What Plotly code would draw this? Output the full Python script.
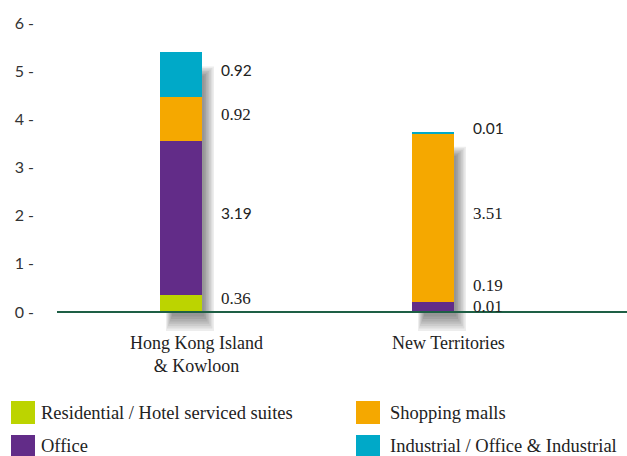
import plotly.graph_objects as go

# Floor area by district and use (million sq ft)
categories = ["Hong Kong Island<br>& Kowloon", "New Territories"]
series_names = ["Residential / Hotel serviced suites", "Office",
                "Shopping malls", "Industrial / Office & Industrial"]
residential = [0.36, 0.01]
office = [3.19, 0.19]
shopping = [0.92, 3.51]
industrial = [0.92, 0.01]
y_ticks = [0, 1, 2, 3, 4, 5, 6]
y_tick_labels = ["0 -", "1 -", "2 -", "3 -", "4 -", "5 -", "6 -"]

series_values = [residential, office, shopping, industrial]
colors = ["#bcd400", "#622c88", "#f5a800", "#00a9c8"]
# serif / sans mix used for the value labels (per series, per category)
label_fonts = [["Liberation Serif", "Liberation Serif"],
               ["Lato", "Liberation Serif"],
               ["Liberation Serif", "Liberation Serif"],
               ["Lato", "Lato"]]
label_sizes = {"Lato": 15.5, "Liberation Serif": 17}

W, H = 627, 456
M_L, M_R, M_T, M_B = 57, 0, 9, 125
PX_PER_X = 252.0
PX_PER_Y = 48.1667
ZERO_PX = 312
X0_PX = 181
BAR_W = 42 / PX_PER_X

plot_w = W - M_L - M_R
plot_h = H - M_T - M_B
x_range = [-(X0_PX - M_L) / PX_PER_X, (W - M_R - X0_PX) / PX_PER_X]
y_range = [-(H - M_B - ZERO_PX) / PX_PER_Y, (ZERO_PX - M_T) / PX_PER_Y]


def paper_x(px):
    return (px - M_L) / plot_w


def paper_y(px):
    return (H - M_B - px) / plot_h


xs = list(range(len(categories)))
fig = go.Figure()
for name, vals, col in zip(series_names, series_values, colors):
    fig.add_trace(go.Bar(x=xs, y=vals, name=name, marker_color=col,
                         marker_line_width=0, width=BAR_W, showlegend=False))

shapes = []
annotations = []

# soft drop shadow behind each stacked bar
for i in xs:
    total = sum(v[i] for v in series_values)
    for k in range(7):
        shapes.append(dict(
            type="rect", xref="x", yref="y", layer="below",
            x0=i - BAR_W / 2 + (6 + k) / PX_PER_X,
            x1=i + BAR_W / 2 + (12 - 1.6 * k) / PX_PER_X,
            y0=-(19 - 2.4 * k) / PX_PER_Y,
            y1=total - (14 + 1.5 * k) / PX_PER_Y,
            fillcolor="rgba(0,0,0,0.07)", line_width=0))

# baseline
shapes.append(dict(type="line", xref="paper", yref="y", x0=0, x1=1, y0=0, y1=0,
                   line=dict(color="#1e5f45", width=2), layer="above"))

# value labels to the right of each segment, kept from overlapping
min_gap = 0.45
for i in xs:
    base = 0.0
    prev = None
    for s, vals in enumerate(series_values):
        mid = base + vals[i] / 2 + 0.1
        ly = mid if prev is None else max(mid, prev + min_gap)
        prev = ly
        base += vals[i]
        fam = label_fonts[s][i]
        annotations.append(dict(
            x=i, y=ly, xref="x", yref="y", text=f"{vals[i]:.2f}",
            showarrow=False, xanchor="left", yanchor="middle", xshift=38,
            font=dict(family=fam, size=label_sizes[fam], color="#222222")))

# category labels
for i, cat in zip(xs, categories):
    annotations.append(dict(
        x=i, y=paper_y(331), xref="x", yref="paper", text=cat,
        showarrow=False, xanchor="center", yanchor="top", xshift=15,
        align="center",
        font=dict(family="Liberation Serif", size=18, color="#222222")))

# legend: two columns, two rows
legend_order = [0, 2, 1, 3]
col_px = [(11, 35, 39), (356, 380, 388)]
row_px = [(401, 424), (435, 457)]
for pos, s in enumerate(legend_order):
    r, c = divmod(pos, 2)
    sx0, sx1, tx = col_px[c]
    sy0, sy1 = row_px[r]
    shapes.append(dict(type="rect", xref="paper", yref="paper",
                       x0=paper_x(sx0), x1=paper_x(sx1),
                       y0=paper_y(sy1), y1=paper_y(sy0),
                       fillcolor=colors[s], line_width=0))
    annotations.append(dict(
        x=paper_x(tx), y=paper_y((sy0 + sy1) / 2), xref="paper", yref="paper",
        text=series_names[s], showarrow=False, xanchor="left", yanchor="middle",
        font=dict(family="Liberation Serif", size=18.5, color="#222222")))

fig.update_layout(
    width=W, height=H,
    margin=dict(l=M_L, r=M_R, t=M_T, b=M_B, autoexpand=False),
    barmode="stack", bargap=0,
    plot_bgcolor="white", paper_bgcolor="white",
    shapes=shapes, annotations=annotations, showlegend=False,
    xaxis=dict(range=x_range, showticklabels=False, showgrid=False,
               zeroline=False, showline=False, ticks=""),
    yaxis=dict(range=y_range, tickvals=y_ticks, ticktext=y_tick_labels,
               showgrid=False, zeroline=False, showline=False, ticks="",
               ticklabelstandoff=22,
               tickfont=dict(family="Lato", size=16, color="#333333")),
)

fig.write_html("out.html")
